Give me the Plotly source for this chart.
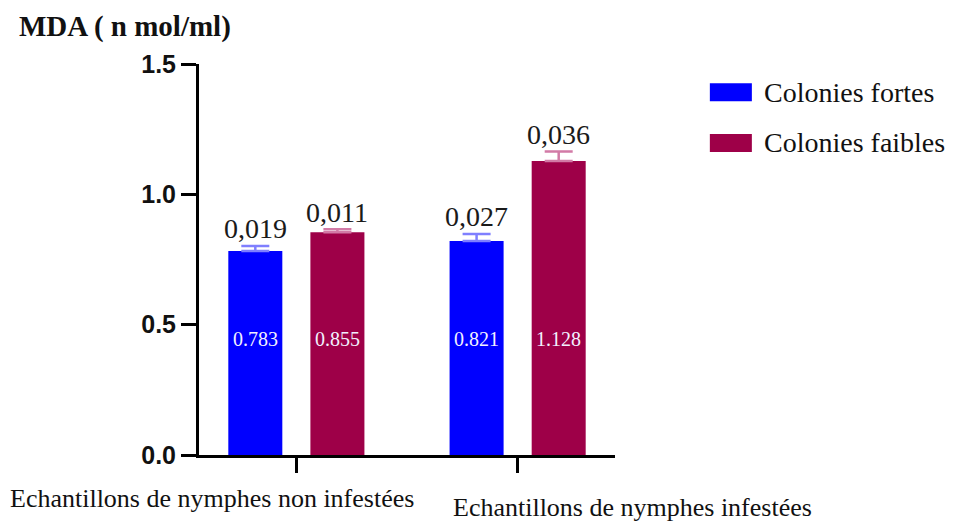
import plotly.graph_objects as go

categories = ["Echantillons de nymphes non infestées", "Echantillons de nymphes infestées"]
series_names = ["Colonies fortes", "Colonies faibles"]
fortes_values = [0.783, 0.821]
faibles_values = [0.855, 1.128]
fortes_err = [0.019, 0.027]
faibles_err = [0.011, 0.036]
y_ticks = [0.0, 0.5, 1.0, 1.5]
y_ticklabels = ["0.0", "0.5", "1.0", "1.5"]

colors = ["#0000FF", "#9E0048"]
err_colors = ["#7F7FFF", "#D27AA6"]

values = [fortes_values, faibles_values]
errs = [fortes_err, faibles_err]

fig = go.Figure()
for i in range(2):
    fig.add_trace(go.Bar(
        x=categories, y=values[i], name=series_names[i],
        marker=dict(color=colors[i], line=dict(width=0)),
        error_y=dict(type="data", array=errs[i], arrayminus=[0] * len(errs[i]),
                     symmetric=False, visible=True,
                     color=err_colors[i], thickness=2.5, width=14),
        showlegend=False,
    ))

serif = "Liberation Serif"
ann = []
# values inside bars and error labels above
for i in range(2):
    offset = -0.1855 if i == 0 else 0.1855
    for j, cat in enumerate(categories):
        ann.append(dict(x=j + offset, y=0.445, xref="x", yref="y",
                        text=f"{values[i][j]:.3f}", showarrow=False,
                        font=dict(family=serif, size=20, color="#F2F0FF")))
        ann.append(dict(x=j + offset, y=values[i][j] + errs[i][j], xref="x", yref="y",
                        text=f"{errs[i][j]:.3f}".replace(".", ","), showarrow=False,
                        yanchor="middle", yshift=17,
                        font=dict(family=serif, size=28, color="#1a1a1a")))

# category labels
label_pos = [(0.031, -0.11), (1.041, -0.135)]
for cat, (px, py) in zip(categories, label_pos):
    ann.append(dict(x=px, y=py, xref="paper", yref="paper", text=cat, showarrow=False,
                    xanchor="center", yanchor="middle",
                    font=dict(family=serif, size=26, color="#111111")))

# title
ann.append(dict(x=-0.437, y=1.097, xref="paper", yref="paper", text="<b>MDA ( n mol/ml)</b>",
                showarrow=False, xanchor="left", yanchor="middle",
                font=dict(family=serif, size=29, color="#111111")))

# legend
shapes = []
leg_y = [(0.951, 0.905, 0.928), (0.821, 0.775, 0.798)]
for i in range(2):
    y1, y0, yc = leg_y[i]
    shapes.append(dict(type="rect", xref="paper", yref="paper", x0=1.228, x1=1.329,
                       y0=y0, y1=y1, fillcolor=colors[i], line=dict(width=0)))
    ann.append(dict(x=1.353, y=yc, xref="paper", yref="paper", text=series_names[i],
                    showarrow=False, xanchor="left", yanchor="middle",
                    font=dict(family=serif, size=28, color="#111111")))

fig.update_layout(
    width=950, height=517,
    margin=dict(l=191, r=343, t=56, b=70),
    plot_bgcolor="white", paper_bgcolor="white",
    barmode="group", bargap=0.258, bargroupgap=0.342,
    annotations=ann, shapes=shapes,
    showlegend=False,
)
fig.update_xaxes(range=[-0.44, 1.44], showticklabels=False, ticks="outside", ticklen=15,
                 tickwidth=3, tickcolor="black", showline=True, linewidth=3, linecolor="black",
                 showgrid=False, zeroline=False)
fig.update_yaxes(range=[0, 1.5], tickvals=y_ticks, ticktext=y_ticklabels, ticks="outside",
                 ticklen=15, tickwidth=3, tickcolor="black", showline=True, linewidth=3,
                 linecolor="black", showgrid=False, zeroline=False,
                 tickfont=dict(family="Liberation Sans", size=25, color="#111111", weight="bold"))

fig.write_html("out.html")
